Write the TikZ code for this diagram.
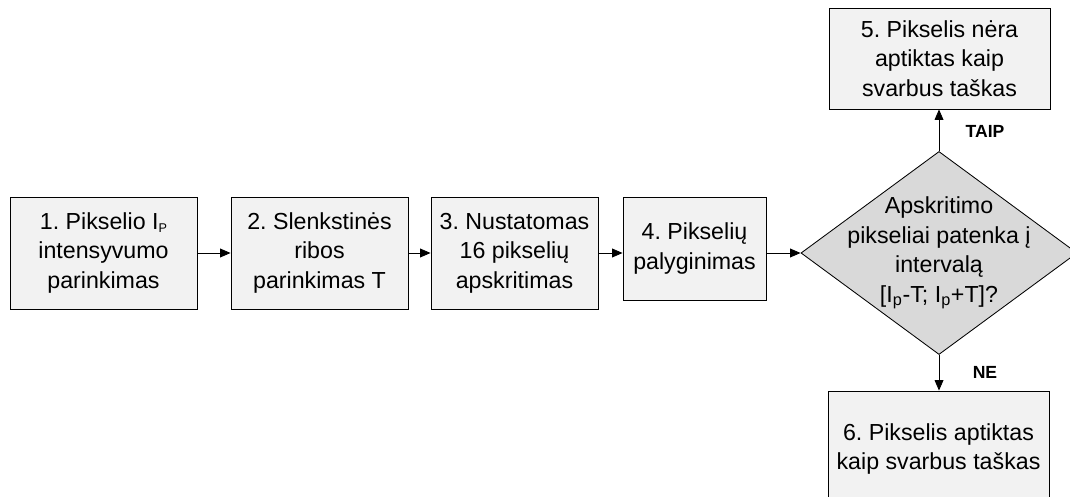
\documentclass[tikz,border=0pt]{standalone}
\usepackage{fontspec}
\setmainfont{Liberation Sans}
\usetikzlibrary{shapes.geometric,arrows.meta}
\definecolor{boxgray}{HTML}{F2F2F2}
\definecolor{diagray}{HTML}{D9D9D9}
\frenchspacing
\begin{document}
\begin{tikzpicture}[x=0.025cm,y=-0.025cm,
	stepbox/.style={draw,line width=0.6pt,fill=boxgray,align=center,inner sep=0pt,
		font=\fontsize{16.5}{21}\selectfont},
	decision/.style={draw,line width=0.6pt,fill=diagray,diamond,inner sep=0pt,
		minimum width=6.9cm,minimum height=5.075cm},
	arr/.style={line width=0.6pt,-{Triangle[length=2.6mm,width=2.2mm]}}]
			\newcommand{\myfontlabel}[1]{
				\fontsize{12.5}{13}\selectfont\bfseries{#1}
			}\newcommand{\mysub}[1]{%
				\raisebox{-0.25ex}{\fontsize{9}{9}\selectfont #1}%
			}%Page frame
			\useasboundingbox (0,0) rectangle (1070,497);
			%Steps in a row
			\node [stepbox,minimum width=4.675cm,minimum height=2.8cm] (b1) at (103.5,253)
				{1. Pikselio I\mysub{P}\\intensyvumo\\parinkimas};
			\node [stepbox,minimum width=4.425cm,minimum height=2.8cm] (b2) at (319.5,253)
				{2. Slenkstinės\\ribos\\parinkimas T};
			\node [stepbox,minimum width=4.175cm,minimum height=2.8cm] (b3) at (514.5,253)
				{3. Nustatomas\\16 pikselių\\apskritimas};
			\node [stepbox,minimum width=3.575cm,minimum height=2.575cm] (b4) at (694.5,248.5)
				{4. Pikselių\\palyginimas};
			%The decision
			\node [decision] (q) at (939,253) {};
			\node [align=center,font=\fontsize{16.5}{21}\selectfont] (qtext) at (q.center)
				{Apskritimo\\pikseliai patenka į\\intervalą\\{}[I$_{\mathrm{p}}$-T; I$_{\mathrm{p}}$+T]?};
			%Outcomes
			\node [stepbox,minimum width=5.525cm,minimum height=2.525cm] (b5) at (939.5,58.5)
				{5. Pikselis nėra\\aptiktas kaip\\svarbus taškas};
			\node [stepbox,minimum width=5.525cm,minimum height=2.9cm] (b6) at (938.5,449)
				{6. Pikselis aptiktas\\kaip svarbus taškas};
			%Arrows
			\draw [arr] (b1) -- (b2);
			\draw [arr] (b2) -- (b3);
			\draw [arr] (b3.east) -- (b4.west |- b3.east);
			\draw [arr] (b4.east |- q.west) -- (q.west);
			\draw [arr] (q.north) -- (q.north |- b5.south);
			\draw [arr] (q.south) -- (q.south |- b6.north);
			%Answers
			\coordinate (yes) at (985,131);
			\coordinate (no) at (985,372);
			\node [] (yeslabel) at (yes) {\myfontlabel{TAIP}};
			\node [] (nolabel) at (no) {\myfontlabel{NE}};
\end{tikzpicture}
\end{document}
